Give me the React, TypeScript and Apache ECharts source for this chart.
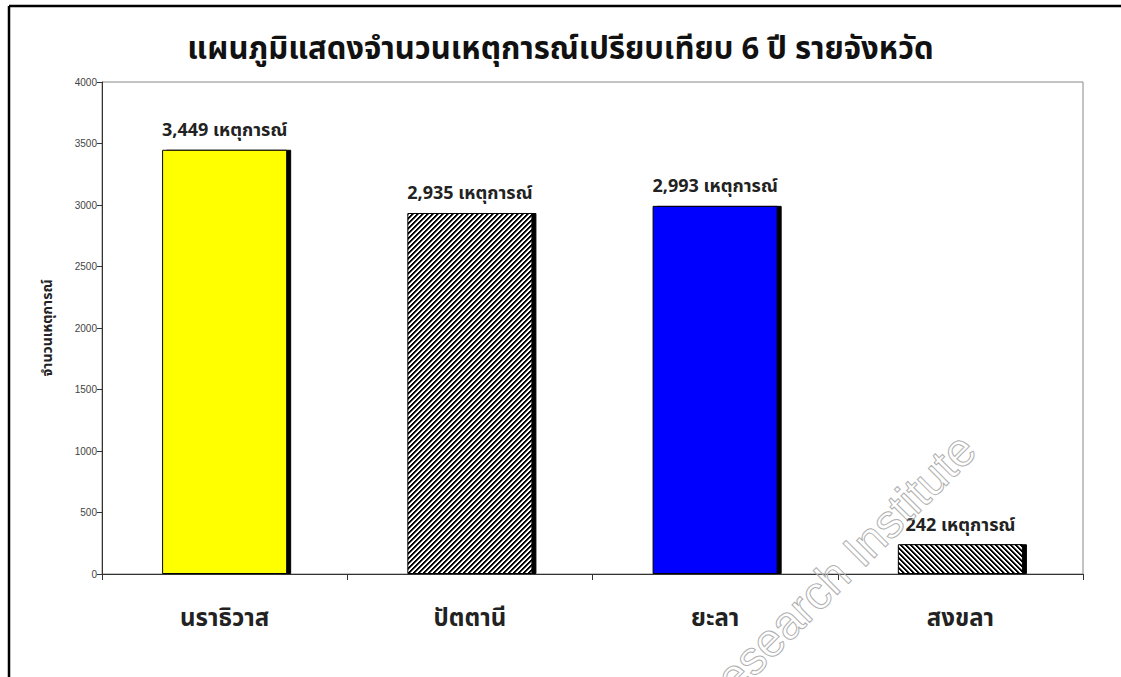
import React, { useEffect, useRef } from "react";
import * as echarts from "echarts";

const titleText = "แผนภูมิแสดงจำนวนเหตุการณ์เปรียบเทียบ 6 ปี รายจังหวัด";
const yAxisName = "จำนวนเหตุการณ์";
const unit = "เหตุการณ์";
const categories = ["นราธิวาส", "ปัตตานี", "ยะลา", "สงขลา"];
const values = [3449, 2935, 2993, 242];
const fills = ["yellow", "hatchUp", "blue", "hatchDown"];
const yMin = 0;
const yMax = 4000;
const yStep = 500;
const watermark = "Research Institute";

function makeHatch(dir: "up" | "down") {
  const size = 5;
  const c = document.createElement("canvas");
  c.width = size;
  c.height = size;
  const ctx = c.getContext("2d")!;
  ctx.fillStyle = "#ffffff";
  ctx.fillRect(0, 0, size, size);
  for (let x = 0; x < size; x++) {
    for (let y = 0; y < size; y++) {
      const k = dir === "up" ? (x + y) % size : (((x - y) % size) + size) % size;
      if (k < 2) {
        ctx.fillStyle = "#000000";
        ctx.fillRect(x, y, 1, 1);
      } else if (k === 2) {
        ctx.fillStyle = "#777777";
        ctx.fillRect(x, y, 1, 1);
      }
    }
  }
  return c;
}

export default function App() {
  const ref = useRef<HTMLDivElement>(null);
  useEffect(() => {
    document.body.style.margin = "0";
    const chart = echarts.init(ref.current!, null, { renderer: "svg" });
    const hatchUp = makeHatch("up");
    const hatchDown = makeHatch("down");
    const colorFor = (f: string): any => {
      if (f === "yellow") return "#FFFF00";
      if (f === "blue") return "#0000FF";
      if (f === "hatchUp") return { image: hatchUp, repeat: "repeat" };
      return { image: hatchDown, repeat: "repeat" };
    };
    const fontThai = "Tahoma, 'Noto Sans Thai', 'Noto Sans', 'DejaVu Sans', sans-serif";
    chart.setOption({
      animation: false,
      backgroundColor: "#ffffff",
      title: {
        text: titleText,
        left: "center",
        top: 29,
        textStyle: {
          fontSize: 31,
          fontWeight: "bold",
          color: "#111",
          fontFamily: fontThai,
        },
      },
      grid: {
        left: 102,
        right: 38,
        top: 82,
        bottom: 103,
        show: true,
        borderColor: "#888",
        borderWidth: 1,
        backgroundColor: "transparent",
      },
      xAxis: {
        type: "category",
        data: categories,
        axisLine: { lineStyle: { color: "#333", width: 1 } },
        axisTick: { show: true, length: 6, lineStyle: { color: "#333" } },
        axisLabel: {
          margin: 33,
          fontSize: 24,
          fontWeight: "bold",
          color: "#222",
          fontFamily: fontThai,
        },
      },
      yAxis: {
        type: "value",
        min: yMin,
        max: yMax,
        interval: yStep,
        name: yAxisName,
        nameLocation: "middle",
        nameRotate: 90,
        nameGap: 48,
        nameTextStyle: { fontSize: 14, fontWeight: "bold", color: "#222", fontFamily: fontThai },
        axisLine: { show: true, lineStyle: { color: "#333", width: 1 } },
        axisTick: { show: true, length: 5, lineStyle: { color: "#333" } },
        axisLabel: {
          fontSize: 10,
          color: "#444",
          margin: 5,
          fontFamily: "'Liberation Sans', Arial, sans-serif",
          formatter: (v: number) => String(v),
        },
        splitLine: { show: false },
      },
      series: [
        {
          type: "bar",
          barWidth: "51%",
          data: values.map((v, i) => ({
            value: v,
            itemStyle: {
              color: colorFor(fills[i]),
              borderColor: "#000",
              borderWidth: 1,
              shadowColor: "#000",
              shadowBlur: 0,
              shadowOffsetX: 4,
              shadowOffsetY: 0,
            },
          })),
          label: {
            show: true,
            position: "top",
            distance: 10,
            fontSize: 18,
            fontWeight: "bold",
            color: "#222",
            fontFamily: fontThai,
            formatter: (p: any) => `${Number(p.value).toLocaleString("en-US")} ${unit}`,
          },
        },
      ],
      graphic: [
        {
          type: "line",
          shape: { x1: 9, y1: 6, x2: 1121, y2: 6 },
          style: { stroke: "#000", lineWidth: 2.5 },
          z: 100,
        },
        {
          type: "line",
          shape: { x1: 9, y1: 6, x2: 9, y2: 677 },
          style: { stroke: "#000", lineWidth: 2.5 },
          z: 100,
        },
        {
          type: "text",
          x: 984,
          y: 458,
          rotation: Math.PI / 4,
          z: 50,
          silent: true,
          style: {
            text: watermark,
            font: "47px 'Liberation Sans', Arial, sans-serif",
            fill: "rgba(255,255,255,0.2)",
            stroke: "#a8a8a8",
            lineWidth: 1,
            align: "right",
            verticalAlign: "bottom",
          },
        },
      ],
    });
    return () => chart.dispose();
  }, []);
  return <div ref={ref} style={{ width: 1121, height: 677 }} />;
}
